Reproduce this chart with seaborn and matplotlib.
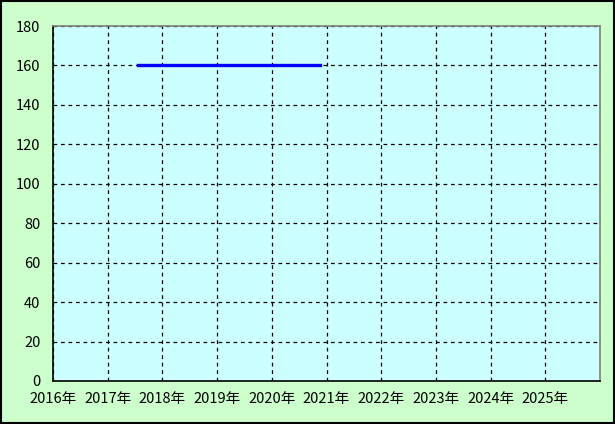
import matplotlib
matplotlib.use('Agg')
import matplotlib.pyplot as plt
from matplotlib.patches import Rectangle
import seaborn as sns
import pandas as pd

# data
years = [2017.55, 2020.88]
values = [160, 160]
tick_years = list(range(2016, 2026))
tick_labels = [f'{y}年' for y in tick_years]
y_ticks = list(range(0, 181, 20))

plt.rcParams['font.family'] = ['Noto Sans CJK JP', 'DejaVu Sans']

df = pd.DataFrame({'year': years, 'value': values})

fig = plt.figure(figsize=(6.15, 4.24), dpi=100, facecolor='#CCFFCC')
ax = fig.add_axes([53/615, 43/424, 547/615, 355/424])
ax.set_facecolor('#CCFFFF')

sns.lineplot(data=df, x='year', y='value', ax=ax, color='#0000FF', linewidth=2.4, zorder=3)

ax.set_xlim(2016, 2026)
ax.set_ylim(0, 180)
ax.set_xticks(tick_years)
ax.set_xticklabels(tick_labels)
ax.set_yticks(y_ticks)
ax.tick_params(length=0, labelsize=10.5)
ax.tick_params(axis='y', pad=9)
ax.tick_params(axis='x', pad=8)
ax.set_xlabel('')
ax.set_ylabel('')
ax.grid(True, color='black', linestyle=(0, (3, 3)), linewidth=0.9)
ax.set_axisbelow(True)

for s in ['left', 'bottom']:
    ax.spines[s].set_color('black')
    ax.spines[s].set_linewidth(1.2)
for s in ['top', 'right']:
    ax.spines[s].set_color('#808080')
    ax.spines[s].set_linewidth(1.2)

# outer frame
fig.patches.append(Rectangle((0.001, 0.002), 0.997, 0.995, transform=fig.transFigure,
                             fill=False, edgecolor='black', linewidth=1.5))

fig.savefig('out.png', dpi=100, facecolor=fig.get_facecolor())
